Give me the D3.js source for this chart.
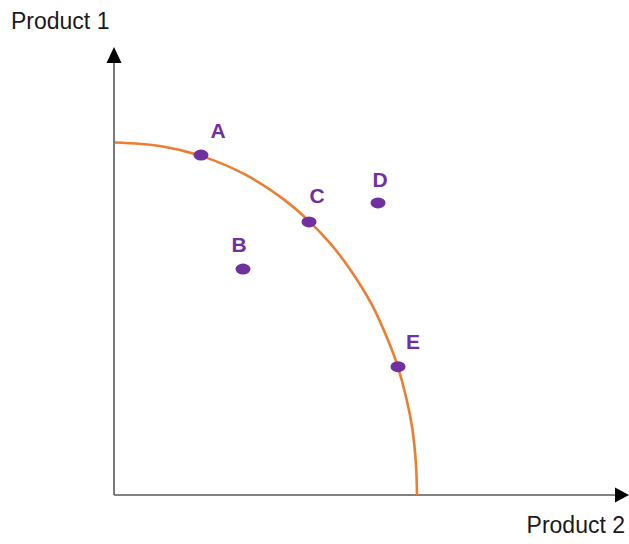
<html lang="en">
<head>
<meta charset="UTF-8">
<title>Production Possibility Frontier</title>
<style>
  body { margin: 0; background: #fff; font-family: Arial, "Liberation Sans", sans-serif; }
  .axis-title { font-size: 23px; fill: #1a1a1a; }
  .point-label { font-size: 21px; font-weight: bold; fill: #7030a0; }
</style>
<script src="https://d3js.org/d3.v7.min.js"></script>
</head>
<body>
<svg id="chart" width="629" height="544"></svg>
<script>
// frontier (Product 2 on x, Product 1 on y, 0-100)
const frontierX = [0, 9, 17.2, 26, 34, 38.8, 43, 47.1, 51.4, 55.0, 56.5, 58.1, 59.5, 60.2, 60.4];
const frontierY = [81.6, 80.8, 78.5, 74.2, 68.2, 63.4, 58.3, 52.1, 44.0, 34.7, 29.9, 23.2, 15.1, 6.9, 0];

const pointNames = ["A", "B", "C", "D", "E"];
const pointX = [17.2, 25.6, 38.8, 52.6, 56.6];
const pointY = [78.7, 52.3, 63.2, 67.6, 29.7];

const xTitle = "Product 2";
const yTitle = "Product 1";

// where each letter sits relative to its dot
const labelOffset = { A: [17, -17], B: [-4, -17], C: [8, -19], D: [2, -16], E: [15, -18] };

const svg = d3.select("#chart");

const x = d3.scaleLinear().domain([0, 100]).range([115, 615]);
const y = d3.scaleLinear().domain([0, 100]).range([495, 63]);

// axes
svg.append("line")
  .attr("x1", x(0) - 1).attr("y1", y(0))
  .attr("x2", x(100)).attr("y2", y(0))
  .attr("stroke", "#595959").attr("stroke-width", 1.6);
svg.append("line")
  .attr("x1", x(0) - 1).attr("y1", y(0))
  .attr("x2", x(0) - 1).attr("y2", y(100))
  .attr("stroke", "#595959").attr("stroke-width", 1.6);

// arrow heads
svg.append("path")
  .attr("d", `M${x(100)},${y(0) - 7.5} L${x(100) + 14},${y(0)} L${x(100)},${y(0) + 7.5} Z`)
  .attr("fill", "#000");
svg.append("path")
  .attr("d", `M${x(0) - 8.5},${y(100)} L${x(0) - 1},${y(100) - 16} L${x(0) + 6.5},${y(100)} Z`)
  .attr("fill", "#000");

// axis titles
svg.append("text").attr("class", "axis-title")
  .attr("x", 11).attr("y", 29).text(yTitle);
svg.append("text").attr("class", "axis-title")
  .attr("x", 625).attr("y", 533).attr("text-anchor", "end").text(xTitle);

// frontier curve
const frontier = frontierX.map((d, i) => [d, frontierY[i]]);
const line = d3.line()
  .x(d => x(d[0]))
  .y(d => y(d[1]))
  .curve(d3.curveCatmullRom.alpha(0.5));

svg.append("path")
  .datum(frontier)
  .attr("d", line)
  .attr("fill", "none")
  .attr("stroke", "#ed7d31")
  .attr("stroke-width", 2.6);

// points
const points = pointNames.map((n, i) => ({ name: n, x: pointX[i], y: pointY[i] }));

svg.selectAll("ellipse.pt")
  .data(points)
  .join("ellipse")
  .attr("class", "pt")
  .attr("cx", d => x(d.x))
  .attr("cy", d => y(d.y))
  .attr("rx", 7.5)
  .attr("ry", 5.5)
  .attr("fill", "#7030a0");

svg.selectAll("text.point-label")
  .data(points)
  .join("text")
  .attr("class", "point-label")
  .attr("x", d => x(d.x) + labelOffset[d.name][0])
  .attr("y", d => y(d.y) + labelOffset[d.name][1])
  .attr("text-anchor", "middle")
  .text(d => d.name);
</script>
</body>
</html>
